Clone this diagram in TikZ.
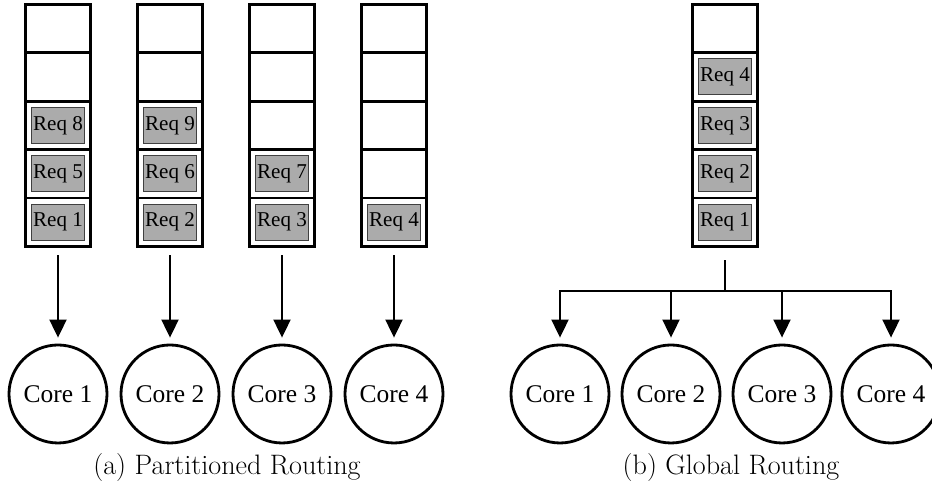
\documentclass[tikz,border=0pt]{standalone}
\usepackage{fontspec}
\newfontfamily\timesfont{Liberation Serif}
\usetikzlibrary{arrows.meta, positioning}

\tikzset{
  cell/.style={draw, line width=0.8pt, minimum width=1.28cm, minimum height=0.94cm, inner sep=0pt},
  req/.style={draw=black!75, fill=black!33, line width=0.6pt, minimum width=1.06cm, minimum height=0.72cm, inner sep=0pt, font=\timesfont\fontsize{12}{13}\selectfont},
  core/.style={draw, circle, line width=1.6pt, minimum size=1.96cm, inner sep=0pt, font=\timesfont\fontsize{14.5}{16}\selectfont},
  frame/.style={draw, line width=1.7pt},
  feed/.style={line width=1.1pt, -{Triangle[length=3.6mm,width=3.4mm]}},
  caption/.style={font=\fontsize{16}{18}\selectfont}
}

\begin{document}
\begin{tikzpicture}
  \useasboundingbox (0,0) rectangle (18.64,9.68);
  % queues, one cell column each
  \foreach \q/\x in {1/1.16, 2/3.40, 3/5.64, 4/7.88, g/14.50} {
    \node[cell] (q\q-1) at (\x,9.11) {};
    \node[cell, below=0pt of q\q-1] (q\q-2) {};
    \node[cell, below=0pt of q\q-2] (q\q-3) {};
    \node[cell, below=0pt of q\q-3] (q\q-4) {};
    \node[cell, below=0pt of q\q-4] (q\q-5) {};
    \draw[frame] (q\q-1.north west) rectangle (q\q-5.south east);
  }
  % partitioned requests
  \node[req] (r8) at (q1-3) {Req 8};
  \node[req] (r5) at (q1-4) {Req 5};
  \node[req] (r1) at (q1-5) {Req 1};
  \node[req] (r9) at (q2-3) {Req 9};
  \node[req] (r6) at (q2-4) {Req 6};
  \node[req] (r2) at (q2-5) {Req 2};
  \node[req] (r7) at (q3-4) {Req 7};
  \node[req] (r3) at (q3-5) {Req 3};
  \node[req] (r4) at (q4-5) {Req 4};
  % global requests
  \node[req] (g4) at (qg-2) {Req 4};
  \node[req] (g3) at (qg-3) {Req 3};
  \node[req] (g2) at (qg-4) {Req 2};
  \node[req] (g1) at (qg-5) {Req 1};

  % cores
  \path (1.16,1.80) node[core] (core1) {Core 1} (3.40,1.80) node[core] (core2) {Core 2}
    (5.64,1.80) node[core] (core3) {Core 3} (7.88,1.80) node[core] (core4) {Core 4};
  \path (11.20,1.80) node[core] (gcore1) {Core 1} (13.42,1.80) node[core] (gcore2) {Core 2}
    (15.64,1.80) node[core] (gcore3) {Core 3} (17.82,1.80) node[core] (gcore4) {Core 4};

  \foreach \q in {1,2,3,4}
    \draw[feed, shorten <=0.18cm, shorten >=0.12cm] (q\q-5.south) -- (core\q.north);

  \coordinate (split) at (14.50,3.86);
  \draw[line width=1.1pt, shorten <=0.28cm] (qg-5.south) -- (split);
  \foreach \c in {1,2,3,4}
    \draw[feed, shorten >=0.12cm] (split) -| (gcore\c.north);

  \node[caption] (capa) at (4.54,0.34) {(a) Partitioned Routing};
  \node[caption] (capb) at (14.62,0.34) {(b) Global Routing};
\end{tikzpicture}
\end{document}
